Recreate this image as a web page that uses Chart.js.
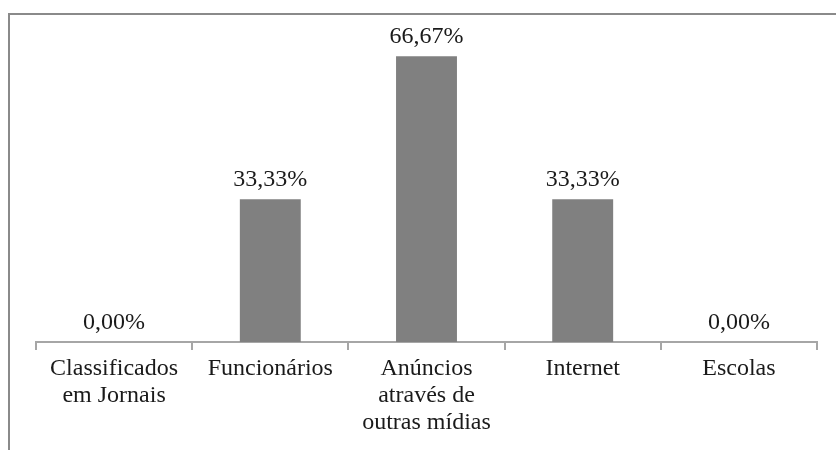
<!DOCTYPE html>
<html>
<head>
<meta charset="utf-8">
<script src="https://cdn.jsdelivr.net/npm/chart.js@4"></script>
<style>
  html, body { margin: 0; padding: 0; background: #fff; }
  #wrap { position: relative; width: 836px; height: 450px; }
  #frame { position: absolute; left: 8px; top: 13px; right: 0; bottom: 0;
           border-left: 2px solid #8a8a8a; border-top: 2px solid #8a8a8a; }
  canvas { position: absolute; left: 0; top: 0; }
</style>
</head>
<body>
<div id="wrap">
  <div id="frame"></div>
  <canvas id="chart" width="836" height="450"></canvas>
</div>
<script>
// data
const categories = [
  ['Classificados', 'em Jornais'],
  'Funcionários',
  ['Anúncios', 'através de', 'outras mídias'],
  'Internet',
  'Escolas'
];
const percentages = [0, 33.33, 66.67, 33.33, 0];
const axisMax = 70;

const FONT = '"Liberation Serif", "Times New Roman", serif';

// draws "33,33%" style labels above each bar
const valueLabels = {
  id: 'valueLabels',
  afterDatasetsDraw(chart) {
    const ctx = chart.ctx;
    const meta = chart.getDatasetMeta(0);
    ctx.save();
    ctx.font = '24px ' + FONT;
    ctx.fillStyle = '#1a1a1a';
    ctx.textAlign = 'center';
    ctx.textBaseline = 'alphabetic';
    meta.data.forEach((bar, i) => {
      const txt = percentages[i].toFixed(2).replace('.', ',') + '%';
      ctx.fillText(txt, bar.x, bar.y - 13);
    });
    ctx.restore();
  }
};

const ctx = document.getElementById('chart').getContext('2d');
const chart = new Chart(ctx, {
  type: 'bar',
  data: {
    labels: categories,
    datasets: [{
      data: percentages,
      backgroundColor: '#808080',
      borderWidth: 0,
      categoryPercentage: 1,
      barPercentage: 0.39
    }]
  },
  options: {
    responsive: false,
    animation: false,
    layout: { padding: { left: 36, right: 19, top: 42, bottom: 0 } },
    plugins: {
      legend: { display: false },
      tooltip: { enabled: false }
    },
    scales: {
      x: {
        offset: true,
        grid: {
          offset: true,
          drawOnChartArea: false,
          tickLength: 8,
          color: '#a6a6a6',
          lineWidth: 2
        },
        border: { color: '#a6a6a6', width: 2 },
        ticks: {
          color: '#1a1a1a',
          font: { family: FONT, size: 24, lineHeight: 1.125 },
          padding: 5,
          maxRotation: 0,
          autoSkip: false
        },
        afterFit(axis) { axis.height = 108; }
      },
      y: {
        display: false,
        min: 0,
        max: axisMax
      }
    }
  },
  plugins: [valueLabels]
});
</script>
</body>
</html>
